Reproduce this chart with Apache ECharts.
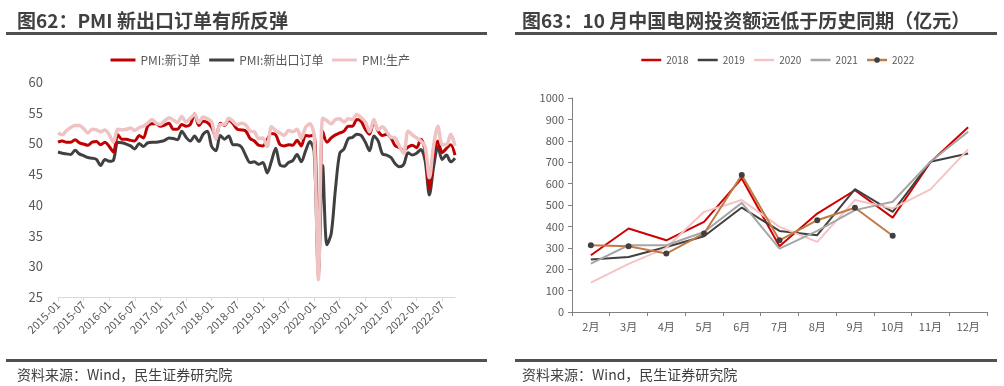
<!DOCTYPE html>
<html><head><meta charset="utf-8">
<script src="https://cdn.jsdelivr.net/npm/echarts@6/dist/echarts.min.js"></script>
<style>html,body{margin:0;padding:0;background:#fff}#c{width:1004px;height:386px}</style>
</head><body><div id="c"></div><script>
// ---- Left chart data (monthly, 2015-01 .. 2022-10) ----
const pmiMonths = [];
for (let y = 2015; y <= 2022; y++) {
  for (let m = 1; m <= 12; m++) {
    if (y === 2022 && m > 10) break;
    pmiMonths.push(y + '-' + (m < 10 ? '0' + m : m));
  }
}
const newOrders = [
  50.2, 50.4, 50.2, 50.2, 50.6, 50.1, 49.9, 49.7, 50.2, 50.3, 49.8, 50.2,
  49.5, 48.6, 51.4, 50.7, 50.7, 50.5, 50.4, 51.3, 50.9, 52.8, 53.2, 53.2,
  52.8, 53.0, 53.3, 52.3, 52.3, 53.1, 52.8, 53.1, 54.8, 52.9, 53.6, 53.4,
  52.6, 51.0, 53.3, 52.9, 53.8, 53.2, 52.3, 52.2, 52.0, 50.8, 50.4, 49.7,
  49.6, 50.6, 51.6, 51.4, 49.8, 49.6, 49.8, 49.7, 50.5, 49.6, 51.3, 51.2,
  51.4, 29.3, 52.0, 50.2, 50.9, 51.4, 51.7, 52.0, 52.8, 52.8, 53.9, 53.6,
  52.3, 51.5, 53.6, 52.0, 51.3, 51.5, 50.9, 49.6, 49.3, 48.8, 49.4, 49.7,
  49.3, 50.7, 48.8, 42.6, 48.2, 50.4, 48.5, 49.2, 49.8, 48.1
];
const newExportOrders = [
  48.6, 48.4, 48.3, 48.2, 48.9, 48.3, 48.0, 47.7, 47.6, 47.4, 46.4, 47.4,
  47.1, 47.3, 50.2, 50.1, 49.9, 49.6, 49.1, 50.0, 49.5, 50.1, 50.2, 50.2,
  50.3, 50.5, 50.9, 50.8, 50.6, 52.0, 51.0, 50.4, 51.2, 50.3, 51.5, 52.0,
  49.5, 48.8, 51.3, 50.7, 51.2, 49.8, 49.8, 49.4, 48.0, 46.9, 47.0, 46.6,
  46.9, 45.2, 47.1, 49.2, 46.5, 46.3, 46.9, 47.2, 48.2, 47.0, 48.8, 50.3,
  48.7, 28.7, 46.4, 33.5, 35.3, 42.6, 48.4, 49.1, 50.8, 51.0, 51.5, 51.3,
  50.2, 48.8, 51.2, 50.4, 48.3, 48.1, 47.7, 46.7, 46.2, 46.6, 48.5, 48.1,
  48.4, 49.0, 47.2, 41.6, 46.2, 49.5, 47.4, 48.1, 47.0, 47.6
];
const production = [
  51.7, 51.4, 52.1, 52.6, 52.9, 52.9, 52.4, 51.7, 52.3, 52.2, 51.9, 52.2,
  51.4, 50.2, 52.3, 52.2, 52.3, 52.5, 52.1, 52.6, 52.8, 53.3, 53.9, 53.3,
  53.1, 53.7, 54.2, 53.8, 53.4, 54.4, 53.5, 54.1, 54.7, 53.4, 54.3, 54.0,
  53.5, 50.7, 53.1, 53.1, 54.1, 53.6, 53.0, 53.3, 53.0, 52.0, 51.9, 50.8,
  50.9, 49.5, 52.7, 52.1, 51.7, 51.3, 52.1, 51.9, 52.3, 50.8, 52.6, 53.2,
  51.3, 27.8, 54.1, 53.7, 53.2, 53.9, 54.0, 53.5, 54.0, 53.9, 54.7, 54.2,
  53.5, 51.9, 53.9, 52.2, 52.7, 51.9, 51.0, 50.9, 49.5, 48.4, 52.0, 51.4,
  50.9, 50.4, 49.5, 44.4, 49.7, 52.8, 49.8, 49.8, 51.5, 49.6
];
const pmiNames = ['PMI:新订单', 'PMI:新出口订单', 'PMI:生产'];

// ---- Right chart data (亿元) ----
const gridMonths = ['2月', '3月', '4月', '5月', '6月', '7月', '8月', '9月', '10月', '11月', '12月'];
const inv2018 = [265, 390, 335, 421, 624, 307, 460, 569, 441, 700, 863];
const inv2019 = [245, 257, 304, 354, 488, 379, 359, 574, 468, 702, 741];
const inv2020 = [137, 225, 300, 468, 523, 398, 328, 523, 484, 573, 760];
const inv2021 = [226, 312, 312, 374, 510, 296, 379, 476, 515, 702, 842];
const inv2022 = [312, 307, 273, 367, 640, 335, 429, 487, 356];
const yearNames = ['2018', '2019', '2020', '2021', '2022'];

const FONT = '"Noto Sans CJK SC", "Noto Sans", sans-serif';
const chart = echarts.init(document.getElementById('c'), null, {renderer: 'canvas'});

function leftLine(name, data, color, z, width) {
  return {name, type: 'line', xAxisIndex: 0, yAxisIndex: 0, data, symbol: 'none',
    smooth: 0.3, z, lineStyle: {color, width: width || 3}, itemStyle: {color}};
}
function rightLine(name, data, color, width, withDots) {
  return {name, type: 'line', xAxisIndex: 1, yAxisIndex: 1, data,
    symbol: withDots ? 'circle' : 'none', symbolSize: 6, showSymbol: !!withDots,
    lineStyle: {color, width}, itemStyle: {color: withDots ? '#404040' : color}};
}
const hideDot = {opacity: 0};

chart.setOption({
  animation: false,
  textStyle: {fontFamily: FONT},
  graphic: [
    {type: 'text', x: 17, y: 11, style: {text: '图62：PMI 新出口订单有所反弹', font: 'bold 19px ' + FONT, fill: '#404040'}},
    {type: 'rect', shape: {x: 6, y: 32, width: 481, height: 3}, style: {fill: '#505050'}},
    {type: 'rect', shape: {x: 6, y: 359, width: 481, height: 3}, style: {fill: '#505050'}},
    {type: 'text', x: 17, y: 368, style: {text: '资料来源：Wind，民生证券研究院', font: '14px ' + FONT, fill: '#404040'}},
    {type: 'text', x: 522, y: 11, style: {text: '图63：10 月中国电网投资额远低于历史同期（亿元）', font: 'bold 19px ' + FONT, fill: '#404040'}},
    {type: 'rect', shape: {x: 515, y: 32, width: 482, height: 3}, style: {fill: '#505050'}},
    {type: 'rect', shape: {x: 515, y: 359, width: 482, height: 3}, style: {fill: '#505050'}},
    {type: 'text', x: 522, y: 368, style: {text: '资料来源：Wind，民生证券研究院', font: '14px ' + FONT, fill: '#404040'}}
  ],
  legend: [
    {data: pmiNames.map(n => ({name: n, itemStyle: hideDot})),
      left: 104, top: 49, itemWidth: 25, itemHeight: 12, itemGap: 7,
      lineStyle: {width: 3},
      textStyle: {fontSize: 12, color: '#595959', fontFamily: FONT}},
    {data: yearNames.map((n, i) => (i === 4 ? {name: n} : {name: n, itemStyle: hideDot})),
      left: 635, top: 50, itemWidth: 20, itemHeight: 7, itemGap: 8,
      lineStyle: {width: 2.5},
      textStyle: {fontSize: 10, color: '#595959', fontFamily: FONT}}
  ],
  grid: [
    {left: 58, top: 82, width: 397, height: 215, containLabel: false},
    {left: 572, top: 98, width: 415, height: 214, containLabel: false}
  ],
  xAxis: [
    {type: 'category', gridIndex: 0, data: pmiMonths, boundaryGap: false,
      axisLine: {lineStyle: {color: '#d9d9d9', width: 1}},
      axisTick: {show: true, interval: 5, length: 4, lineStyle: {color: '#d9d9d9'}},
      axisLabel: {interval: 5, rotate: 45, fontSize: 11, color: '#595959', margin: 6}},
    {type: 'category', gridIndex: 1, data: gridMonths, boundaryGap: true,
      axisLine: {lineStyle: {color: '#808080', width: 1}},
      axisTick: {show: true, length: 4, lineStyle: {color: '#808080'}},
      axisLabel: {fontSize: 11, color: '#595959', margin: 9}}
  ],
  yAxis: [
    {type: 'value', gridIndex: 0, min: 25, max: 60, interval: 5,
      axisLine: {show: false}, axisTick: {show: false}, splitLine: {show: false},
      axisLabel: {fontSize: 13, color: '#595959', margin: 15}},
    {type: 'value', gridIndex: 1, min: 0, max: 1000, interval: 100,
      axisLine: {show: true, lineStyle: {color: '#808080'}},
      axisTick: {show: true, length: 4, lineStyle: {color: '#808080'}},
      splitLine: {show: false},
      axisLabel: {fontSize: 11, color: '#595959', margin: 8, formatter: v => String(v)}}
  ],
  series: [
    leftLine(pmiNames[0], newOrders, '#C00000', 3, 3),
    leftLine(pmiNames[1], newExportOrders, '#404040', 2, 3),
    leftLine(pmiNames[2], production, '#EFC3C3', 4, 3.5),
    rightLine(yearNames[0], inv2018, '#D00000', 2),
    rightLine(yearNames[1], inv2019, '#404040', 2),
    rightLine(yearNames[2], inv2020, '#F4C4C4', 2),
    rightLine(yearNames[3], inv2021, '#A6A6A6', 2),
    rightLine(yearNames[4], inv2022, '#C07A45', 2, true)
  ]
});
</script></body></html>
